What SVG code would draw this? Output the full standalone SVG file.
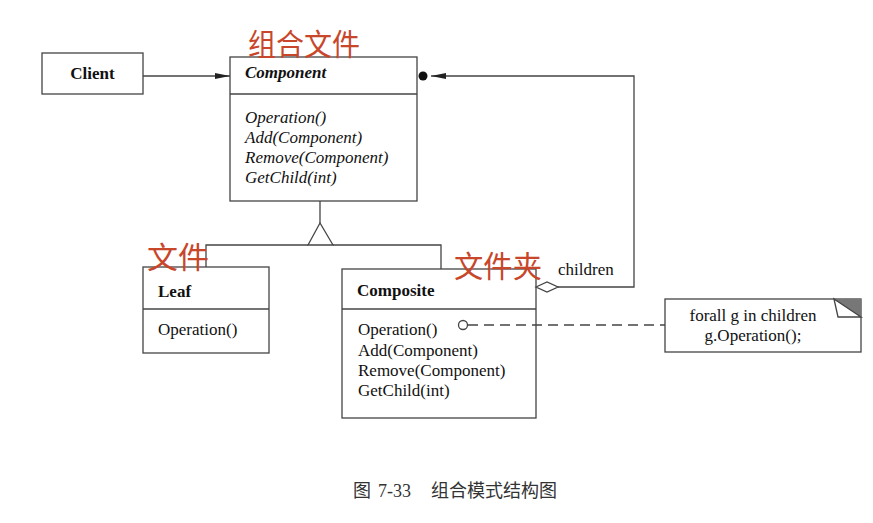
<svg xmlns="http://www.w3.org/2000/svg" width="873" height="523" viewBox="0 0 873 523">
<defs>
<style>
.box{fill:#fff;stroke:#444;stroke-width:1.3}
.ln{fill:none;stroke:#444;stroke-width:1.3}
.t{font-family:"Liberation Serif","Times New Roman",serif;font-size:17px;fill:#111}
.b{font-weight:bold}
.i{font-style:italic}
.hw{font-family:"Noto Sans CJK SC","Noto Sans CJK JP",sans-serif;font-size:30px;fill:#c8462a}
.cap{font-family:"Liberation Serif","Noto Sans CJK SC",serif;font-size:18px;fill:#333}
</style>
<marker id="ah" markerWidth="16" markerHeight="8" refX="15" refY="4" orient="auto" markerUnits="userSpaceOnUse">
<path d="M0,1 L15,4 L0,7 Z" fill="#222"/>
</marker>
</defs>
<rect width="873" height="523" fill="#fff"/>

<g id="client">
<rect class="box" x="42" y="53" width="101" height="41"/>
<text class="t b" x="92.5" y="79" text-anchor="middle" font-size="16.5">Client</text>
</g>

<g id="component">
<rect class="box" x="230" y="57" width="187" height="144"/>
<line class="ln" x1="230" y1="94" x2="417" y2="94"/>
<text class="t b i" x="245" y="78">Component</text>
<text class="t i" x="245" y="123">Operation()</text>
<text class="t i" x="245" y="143">Add(Component)</text>
<text class="t i" x="245" y="163">Remove(Component)</text>
<text class="t i" x="245" y="183">GetChild(int)</text>
</g>

<g id="leaf">
<rect class="box" x="143" y="267" width="126" height="86"/>
<line class="ln" x1="143" y1="309" x2="269" y2="309"/>
<text class="t b" x="158" y="297">Leaf</text>
<text class="t" x="158" y="335">Operation()</text>
</g>

<g id="composite">
<rect class="box" x="342" y="269" width="194" height="149"/>
<line class="ln" x1="342" y1="309" x2="536" y2="309"/>
<text class="t b" x="357" y="296">Composite</text>
<text class="t" x="358" y="335">Operation()</text>
<text class="t" x="358" y="356">Add(Component)</text>
<text class="t" x="358" y="376">Remove(Component)</text>
<text class="t" x="358" y="396">GetChild(int)</text>
</g>

<g id="children-label">
<text class="t" x="558" y="275">children</text>
</g>

<g id="note">
<rect class="box" x="665" y="299" width="196" height="53"/>
<polygon points="834,299 861,299 861,317" fill="#777"/>
<path class="ln" d="M834,299 L838,317 L861,317 Z" fill="#fff"/>
<text class="t" x="753" y="321" text-anchor="middle" font-size="16">forall g in children</text>
<text class="t" x="753" y="341" text-anchor="middle" font-size="16">g.Operation();</text>
</g>

<g id="connectors">
<line class="ln" x1="143" y1="76" x2="230" y2="76" marker-end="url(#ah)"/>
<path class="ln" d="M558,287 L634,287 L634,76 L431,76" marker-end="url(#ah)"/>
<circle cx="423" cy="76" r="4.5" fill="#111"/>
<polygon points="536,287 547,282 558,287 547,292" fill="#fff" stroke="#444" stroke-width="1.3"/>
<line class="ln" x1="320" y1="201" x2="320" y2="223"/>
<polygon points="320,223 308,245 333,245" fill="#fff" stroke="#444" stroke-width="1.3"/>
<path class="ln" d="M206,267 L206,245 L308,245 M333,245 L441,245 L441,269"/>
<circle cx="463" cy="325" r="4.5" fill="#fff" stroke="#444" stroke-width="1.3"/>
<line class="ln" x1="468" y1="325" x2="665" y2="325" stroke-dasharray="10,6"/>
</g>

<g id="annotations">
<text class="hw" x="248" y="55" textLength="112" lengthAdjust="spacingAndGlyphs">组合文件</text>
<text class="hw" x="147" y="268" textLength="62" lengthAdjust="spacingAndGlyphs">文件</text>
<text class="hw" x="454" y="277" textLength="88" lengthAdjust="spacingAndGlyphs">文件夹</text>
</g>

<g id="caption">
<text class="cap" y="497"><tspan x="353">图</tspan><tspan x="378">7-33</tspan><tspan x="431">组合模式结构图</tspan></text>
</g>
</svg>
